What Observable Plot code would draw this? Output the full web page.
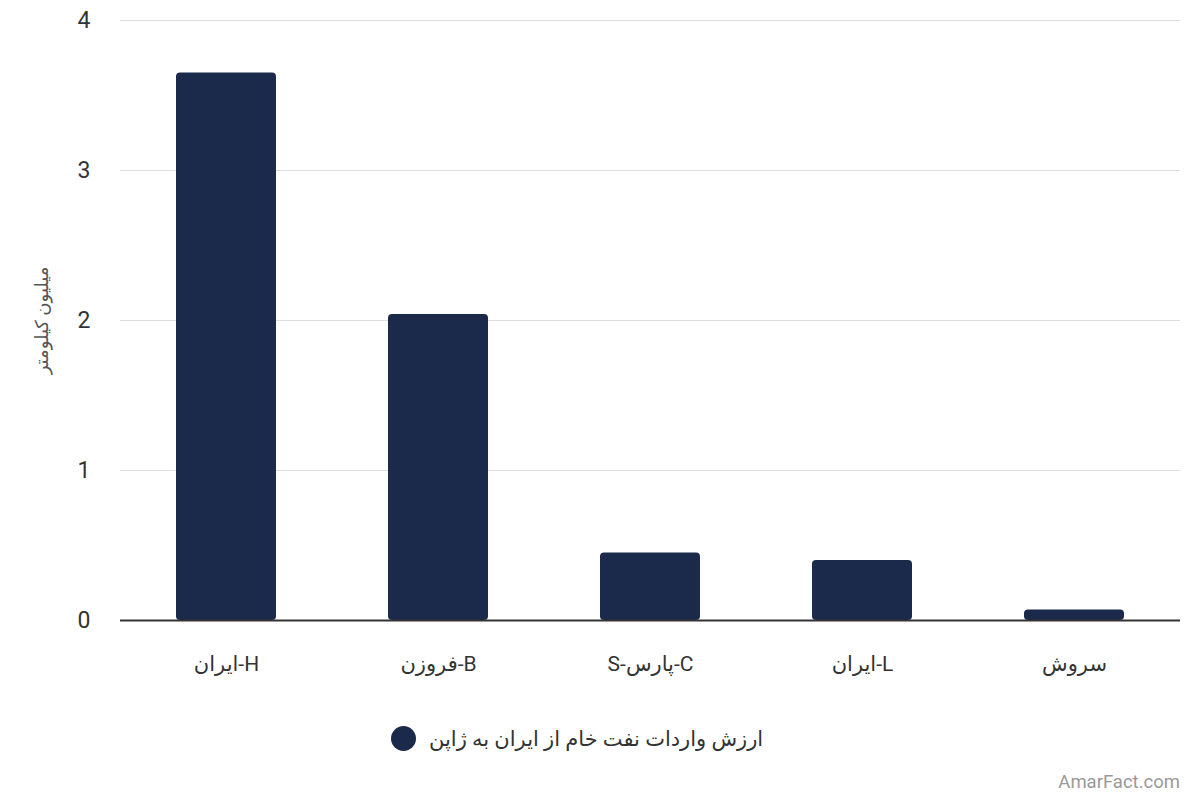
<!DOCTYPE html>
<html>
<head>
<meta charset="utf-8">
<script src="https://cdn.jsdelivr.net/npm/d3@7"></script>
<script src="https://cdn.jsdelivr.net/npm/@observablehq/plot@0.6"></script>
<style>
  body { margin: 0; background: #fff; font-family: Roboto, "DejaVu Sans", sans-serif; }
  #wrap { position: relative; width: 1200px; height: 800px; }
  #legend { position: absolute; top: 726px; left: 391px; display: flex; align-items: center; gap: 13px; font-size: 21px; color: #333; }
  #legend .dot { width: 25px; height: 25px; border-radius: 50%; background: #1b2a4a; }
  #credit { position: absolute; top: 771px; right: 20px; font-size: 18.5px; color: #999; }
</style>
</head>
<body>
<div id="wrap">
  <div id="chart"></div>
  <div id="legend"><span class="dot"></span><span dir="rtl">ارزش واردات نفت خام از ایران به ژاپن</span></div>
  <div id="credit">AmarFact.com</div>
</div>
<script>
const categories = ["ایران-H", "فروزن-B", "S-پارس-C", "ایران-L", "سروش"];
const values = [3.65, 2.04, 0.45, 0.40, 0.07];
const yTicks = [0, 1, 2, 3, 4];
const yLabel = "میلیون کیلومتر";
const barColor = "#1b2a4a";

const data = categories.map((c, i) => ({category: c, value: values[i]}));

const chart = Plot.plot({
  width: 1200,
  height: 700,
  marginTop: 20,
  marginBottom: 80,
  marginLeft: 120,
  marginRight: 20,
  style: {fontFamily: "Roboto, 'DejaVu Sans', sans-serif", background: "#fff", color: "#333"},
  x: {domain: categories, paddingInner: 0.528, paddingOuter: 0.264, label: null},
  y: {domain: [0, 4], ticks: yTicks, label: null},
  marks: [
    Plot.ruleY(yTicks.filter(t => t > 0), {stroke: "#dddddd", strokeWidth: 1}),
    Plot.barY(data, {x: "category", y: "value", fill: barColor, rx: 4}),
    Plot.ruleY([0], {stroke: "#333", strokeWidth: 2}),
    Plot.axisX({tickSize: 0, tickPadding: 36, fontSize: 21, fill: "#333", label: null}),
    Plot.axisY({ticks: yTicks, tickSize: 0, tickPadding: 30, fontSize: 23, fill: "#333", label: null, tickFormat: d3.format("d")}),
    Plot.text([yLabel], {frameAnchor: "left", textAnchor: "middle", dx: -78, rotate: -90, fontSize: 18, fill: "#555"})
  ]
});
document.getElementById("chart").appendChild(chart);
</script>
</body>
</html>
